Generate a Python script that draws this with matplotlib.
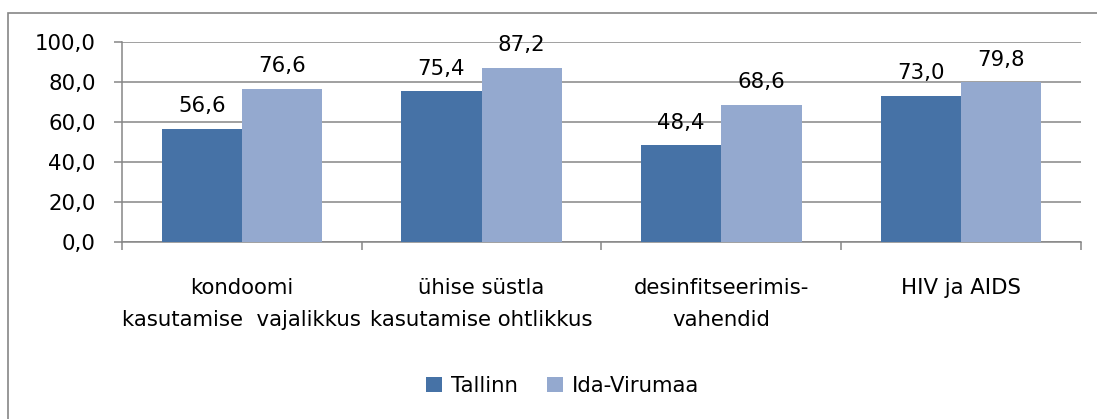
import numpy as np
import matplotlib
matplotlib.use("Agg")
from matplotlib import pyplot as plt
from matplotlib.patches import Rectangle

categories = [
	"kondoomi\nkasutamise  vajalikkus",
	"ühise süstla\nkasutamise ohtlikkus",
	"desinfitseerimis-\nvahendid",
	"HIV ja AIDS",
]
tallinn = [56.6, 75.4, 48.4, 73.0]
ida_virumaa = [76.6, 87.2, 68.6, 79.8]
series_names = ["Tallinn", "Ida-Virumaa"]
y_ticks = [0, 20, 40, 60, 80, 100]

col_tallinn = "#4672A6"
col_ida = "#94A9CF"
grey = "#868686"

plt.rcParams["font.family"] = ["DejaVu Sans"]
fs = 15.3

fig = plt.figure(figsize=(10.97, 4.19), dpi=100)
ax = fig.add_axes([0.1112, 0.4224, 0.8742, 0.4774])

# outer chart border (cropped at right/bottom)
fig.patches.append(Rectangle((8 / 1097, -0.1), 1.2, 1 - 13 / 419 + 0.1,
	transform=fig.transFigure, fill=False, edgecolor=grey, linewidth=1.2))

x = np.arange(len(categories))
w = 0.335
b1 = ax.bar(x - w / 2, tallinn, w, color=col_tallinn, label=series_names[0], zorder=3)
b2 = ax.bar(x + w / 2, ida_virumaa, w, color=col_ida, label=series_names[1], zorder=3)

for bars, vals in ((b1, tallinn), (b2, ida_virumaa)):
	for r, v in zip(bars, vals):
		ax.annotate(f"{v:.1f}".replace(".", ","), (r.get_x() + r.get_width() / 2, v),
			xytext=(0, 9), textcoords="offset points", ha="center", va="bottom",
			fontsize=fs, color="black")

ax.set_ylim(0, 100)
ax.set_xlim(-0.5, len(categories) - 0.5)
ax.set_yticks(y_ticks)
ax.set_yticklabels([f"{t:.1f}".replace(".", ",") for t in y_ticks], fontsize=fs)
ax.yaxis.grid(True, color=grey, linewidth=1.1, zorder=0)
ax.set_axisbelow(True)

ax.set_xticks(x)
ax.set_xticklabels(categories, fontsize=fs, linespacing=1.75)
ax.set_xticks(np.arange(-0.5, len(categories)), minor=True)
ax.tick_params(axis="x", which="major", length=0, pad=26)
ax.tick_params(axis="x", which="minor", length=6, color=grey, width=1.1)
ax.tick_params(axis="y", length=6, color=grey, width=1.1, pad=13)

for s in ("top", "right"):
	ax.spines[s].set_visible(False)
for s in ("left", "bottom"):
	ax.spines[s].set_color(grey)
	ax.spines[s].set_linewidth(1.1)

fig.legend(loc="center", bbox_to_anchor=(0.513, 0.079), ncol=2, frameon=False,
	fontsize=fs, handlelength=0.75, handleheight=0.75, handletextpad=0.4,
	columnspacing=1.4)

fig.savefig("out.png", dpi=100)
